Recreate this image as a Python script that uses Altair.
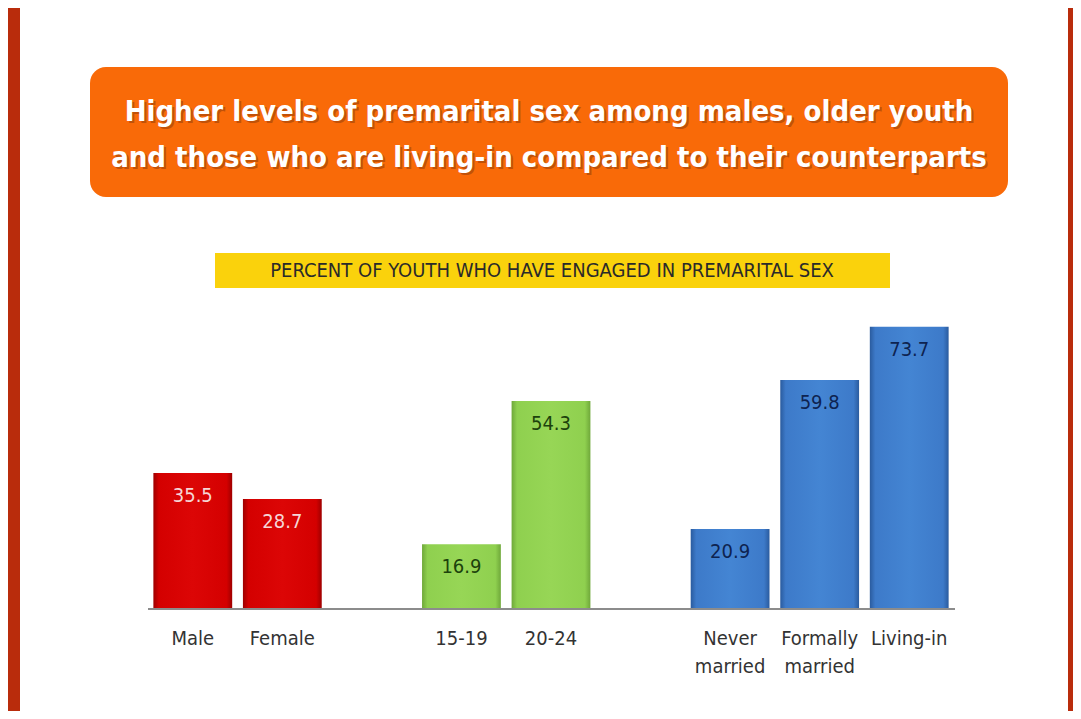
import altair as alt
import pandas as pd

# ---- data ----
categories = ["Male", "Female", "15-19", "20-24", "Never married", "Formally married", "Living-in"]
label_text = ["Male", "Female", "15-19", "20-24", "Never\nmarried", "Formally\nmarried", "Living-in"]
values = [35.5, 28.7, 16.9, 54.3, 20.9, 59.8, 73.7]
groups = ["Sex", "Sex", "Age", "Age", "Marital", "Marital", "Marital"]
slot_order = ["Male", "Female", "gap1", "15-19", "20-24", "gap2", "Never married", "Formally married", "Living-in"]

title_lines = ["Higher levels of premarital sex among males, older youth",
               "and those who are living-in compared to their counterparts"]
subtitle = "PERCENT OF YOUTH WHO HAVE ENGAGED IN PREMARITAL SEX"

df = pd.DataFrame({"cat": categories, "label": label_text, "value": values, "group": groups})

W, H = 1065, 703
NARROW = "Liberation Sans Narrow, Arial Narrow, DejaVu Sans Condensed, sans-serif"

xscale = alt.Scale(domain=slot_order, range=[140, 946], paddingInner=0.12, paddingOuter=0.06)
yscale = alt.Scale(domain=[0, 100], range=[601, 218])

X = alt.X("cat:N", scale=xscale, axis=None)
Y = alt.Y("value:Q", scale=yscale, axis=None)

one = pd.DataFrame({"k": [0]})
base_deco = alt.Chart(one)

# white slide area inside the dark red frame
slide = base_deco.mark_rect(color="white").encode(
    x=alt.value(12), x2=alt.value(1060), y=alt.value(0), y2=alt.value(H))

# orange title box
title_box = base_deco.mark_rect(color="#F96A08", cornerRadius=16).encode(
    x=alt.value(82), x2=alt.value(1000), y=alt.value(59), y2=alt.value(189))

tdf = pd.DataFrame({"t": title_lines, "i": [0, 1]})
ty = alt.Y("i:Q", scale=alt.Scale(domain=[0, 1], range=[104, 150]), axis=None)
title_shadow = alt.Chart(tdf).mark_text(
    font=NARROW, fontSize=29, fontWeight="bold", color="#8a3a08", opacity=0.5,
    align="center", baseline="middle", dx=2, dy=2
).encode(x=alt.value(541), y=ty, text="t:N")
title_text = alt.Chart(tdf).mark_text(
    font=NARROW, fontSize=29, fontWeight="bold", color="white",
    align="center", baseline="middle"
).encode(x=alt.value(541), y=ty, text="t:N")

# yellow subtitle bar
sub_bar = base_deco.mark_rect(color="#FAD20C").encode(
    x=alt.value(207), x2=alt.value(882), y=alt.value(245), y2=alt.value(280))
sub_text = alt.Chart(pd.DataFrame({"t": [subtitle]})).mark_text(
    font=NARROW, fontSize=20, color="#2a2a2a", align="center", baseline="middle"
).encode(x=alt.value(544), y=alt.value(263), text="t:N")

# bars, one layer per group with its own gradient fill
def grad(dark, base, light):
    return alt.Gradient(
        gradient="linear", x1=0, x2=1, y1=0, y2=0,
        stops=[alt.GradientStop(offset=0, color=dark),
               alt.GradientStop(offset=0.07, color=base),
               alt.GradientStop(offset=0.5, color=light),
               alt.GradientStop(offset=0.93, color=base),
               alt.GradientStop(offset=1, color=dark)])

fills = {
    "Sex": grad("#9E0000", "#D40000", "#DC0606"),
    "Age": grad("#6FA83A", "#8FD04F", "#97D656"),
    "Marital": grad("#2A5B9E", "#3D7AC9", "#4485D3"),
}
text_colors = {"Sex": "#F6D6D6", "Age": "#1C420C", "Marital": "#0E2350"}

bars = []
vals = []
for g in ["Sex", "Age", "Marital"]:
    gd = alt.Chart(df).transform_filter(alt.datum.group == g)
    bars.append(gd.mark_bar(color=fills[g]).encode(x=X, y=Y, y2=alt.datum(0)))
    vals.append(gd.mark_text(font=NARROW, fontSize=20, color=text_colors[g],
                             baseline="middle", dy=23).encode(
        x=X, y=Y, text=alt.Text("value:Q", format=".1f")))

axis_line = base_deco.mark_rule(color="#8c8c8c", strokeWidth=2).encode(
    x=alt.value(140), x2=alt.value(947), y=alt.value(601))

cat_labels = alt.Chart(df).mark_text(
    font=NARROW, fontSize=20, color="#333333", align="center", baseline="top",
    lineBreak="\n", lineHeight=28
).encode(x=X, y=alt.value(621), text="label:N")

chart = alt.layer(
    slide, title_box, title_shadow, title_text, sub_bar, sub_text,
    *bars, axis_line, *vals, cat_labels
).properties(
    width=W, height=H, background="#B92C0C", padding=0,
    autosize=alt.AutoSizeParams(type="none")
).configure_view(stroke=None).resolve_scale(y="independent")

chart.save("out.html", embed_options={"renderer": "svg", "actions": False})
